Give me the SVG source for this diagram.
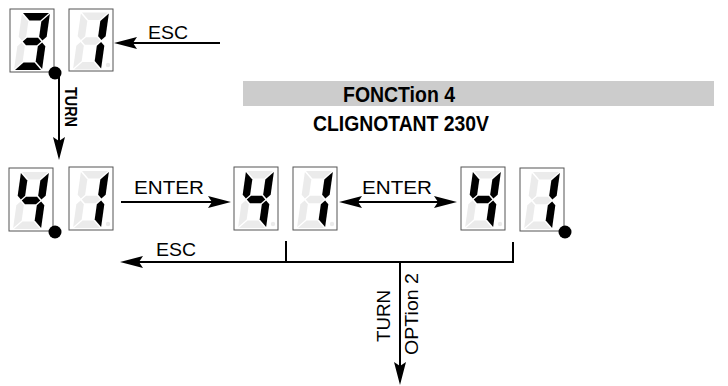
<svg xmlns="http://www.w3.org/2000/svg" xmlns:xlink="http://www.w3.org/1999/xlink" width="728" height="386" viewBox="0 0 728 386">
<style>
.box{fill:#fff;stroke:#555;stroke-width:1}
.on{fill:#000}
.off{fill:#ebebeb}
.dot{fill:#000}
.ln{fill:none;stroke:#000;stroke-width:2}
.lbl{font-family:"Liberation Sans",Arial,sans-serif;font-size:19px;fill:#000}
.bld{font-family:"Liberation Sans",Arial,sans-serif;font-weight:bold;fill:#000}
</style>
<defs>
<polygon id="sa" points="-13,-28.5 13,-28.5 5.5,-21 -5.5,-21"/>
<polygon id="sb" points="14,-27.5 14,-4.75 10.25,-1 6.5,-4.75 6.5,-20"/>
<polygon id="sc" points="14,4.75 14,27.5 6.5,20 6.5,4.75 10.25,1"/>
<polygon id="sd" points="-5.5,21 5.5,21 13,28.5 -13,28.5"/>
<polygon id="se" points="-14,4.75 -10.25,1 -6.5,4.75 -6.5,20 -14,27.5"/>
<polygon id="sf" points="-14,-27.5 -6.5,-20 -6.5,-4.75 -10.25,-1 -14,-4.75"/>
<polygon id="sg" points="-9.25,0 -5.5,-3.75 5.5,-3.75 9.25,0 5.5,3.75 -5.5,3.75"/>
<marker id="ah" viewBox="0 0 24 12" refX="4" refY="6" markerWidth="24" markerHeight="12" markerUnits="userSpaceOnUse" orient="auto-start-reverse">
<path d="M0,0 L23,6 L0,12 L4,6 Z" fill="#000"/>
</marker>
</defs>

<g id="display-top">
<rect class="box" x="10" y="9" width="44" height="63"/>
<g transform="translate(32,41.5) skewX(-8)">
<use href="#sa" class="on"/><use href="#sb" class="on"/><use href="#sc" class="on"/><use href="#sd" class="on"/><use href="#se" class="off"/><use href="#sf" class="off"/><use href="#sg" class="on"/>
</g>
<rect class="box" x="69" y="9" width="44" height="62"/>
<g transform="translate(91,41) skewX(-8)">
<use href="#sa" class="off"/><use href="#sb" class="on"/><use href="#sc" class="on"/><use href="#sd" class="off"/><use href="#se" class="off"/><use href="#sf" class="off"/><use href="#sg" class="off"/>
</g>
<circle class="off" cx="108" cy="65" r="2.2"/>
<circle class="dot" cx="55" cy="73" r="6.5"/>
</g>

<g id="title">
<rect x="243" y="81" width="471" height="25" fill="#cccccc"/>
<text class="bld" x="343" y="102" font-size="22" textLength="112" lengthAdjust="spacingAndGlyphs">FONCTion 4</text>
<text class="bld" x="313" y="131" font-size="22" textLength="176" lengthAdjust="spacingAndGlyphs">CLIGNOTANT 230V</text>
</g>

<g id="display-1">
<rect class="box" x="9" y="168" width="44" height="63"/>
<g transform="translate(31,200.5) skewX(-8)">
<use href="#sa" class="off"/><use href="#sb" class="on"/><use href="#sc" class="on"/><use href="#sd" class="off"/><use href="#se" class="off"/><use href="#sf" class="on"/><use href="#sg" class="on"/>
</g>
<rect class="box" x="69" y="167" width="44" height="63"/>
<g transform="translate(91,199.5) skewX(-8)">
<use href="#sa" class="off"/><use href="#sb" class="on"/><use href="#sc" class="on"/><use href="#sd" class="off"/><use href="#se" class="off"/><use href="#sf" class="off"/><use href="#sg" class="off"/>
</g>
<circle class="off" cx="108" cy="224" r="2.2"/>
<circle class="dot" cx="55" cy="232" r="6.5"/>
</g>

<g id="display-2">
<rect class="box" x="234" y="167" width="44" height="63"/>
<g transform="translate(256,199.5) skewX(-8)">
<use href="#sa" class="off"/><use href="#sb" class="on"/><use href="#sc" class="on"/><use href="#sd" class="off"/><use href="#se" class="off"/><use href="#sf" class="on"/><use href="#sg" class="on"/>
</g>
<circle class="off" cx="273" cy="224" r="2.2"/>
<rect class="box" x="293" y="167" width="44" height="63"/>
<g transform="translate(315,199.5) skewX(-8)">
<use href="#sa" class="off"/><use href="#sb" class="on"/><use href="#sc" class="on"/><use href="#sd" class="off"/><use href="#se" class="off"/><use href="#sf" class="off"/><use href="#sg" class="off"/>
</g>
<circle class="off" cx="332" cy="224" r="2.2"/>
</g>

<g id="display-3">
<rect class="box" x="461" y="167" width="44" height="63"/>
<g transform="translate(483,199.5) skewX(-8)">
<use href="#sa" class="off"/><use href="#sb" class="on"/><use href="#sc" class="on"/><use href="#sd" class="off"/><use href="#se" class="off"/><use href="#sf" class="on"/><use href="#sg" class="on"/>
</g>
<circle class="off" cx="500" cy="224" r="2.2"/>
<rect class="box" x="520" y="168" width="44" height="63"/>
<g transform="translate(542,200.5) skewX(-8)">
<use href="#sa" class="off"/><use href="#sb" class="on"/><use href="#sc" class="on"/><use href="#sd" class="off"/><use href="#se" class="off"/><use href="#sf" class="off"/><use href="#sg" class="off"/>
</g>
<circle class="dot" cx="565" cy="232" r="6.5"/>
</g>

<g id="connectors">
<path class="ln" d="M220,43 H133" marker-end="url(#ah)"/>
<path class="ln" d="M59,76 V141" marker-end="url(#ah)"/>
<path class="ln" d="M121,202 H212" marker-end="url(#ah)"/>
<path class="ln" d="M358,202 H438" marker-start="url(#ah)" marker-end="url(#ah)"/>
<path class="ln" d="M286,241 V262"/>
<path class="ln" d="M513,242 V262 H139" marker-end="url(#ah)"/>
<path class="ln" d="M400,262 V366" marker-end="url(#ah)"/>
<text class="lbl" x="148" y="39" textLength="40" lengthAdjust="spacingAndGlyphs">ESC</text>
<text class="bld" font-size="16" transform="translate(65,87) rotate(90)" textLength="40" lengthAdjust="spacingAndGlyphs">TURN</text>
<text class="lbl" x="134" y="194" textLength="70" lengthAdjust="spacingAndGlyphs">ENTER</text>
<text class="lbl" x="362" y="194" textLength="70" lengthAdjust="spacingAndGlyphs">ENTER</text>
<text class="lbl" x="156" y="256" textLength="40" lengthAdjust="spacingAndGlyphs">ESC</text>
<text class="lbl" transform="translate(390,342) rotate(-90)" textLength="52" lengthAdjust="spacingAndGlyphs">TURN</text>
<text class="lbl" transform="translate(418,355) rotate(-90)" textLength="82" lengthAdjust="spacingAndGlyphs">OPTion 2</text>
</g>
</svg>
